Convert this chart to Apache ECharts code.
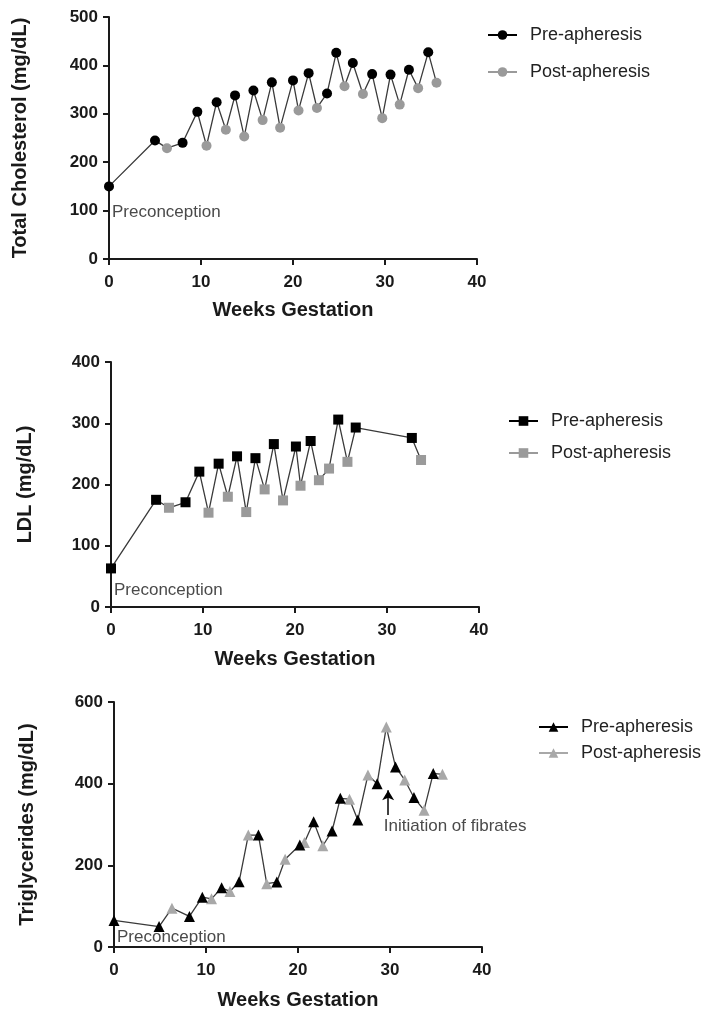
<!DOCTYPE html>
<html>
<head>
<meta charset="utf-8">
<script src="https://cdn.jsdelivr.net/npm/echarts@6/dist/echarts.min.js"></script>
<style>
html,body{margin:0;padding:0;background:#fff;}
#chart{width:712px;height:1012px;}
</style>
</head>
<body>
<div id="chart"></div>
<script>
// ---- Data (weeks gestation, mg/dL) ----
const tcPre = [[0,150],[5,245],[8,240],[9.6,304],[11.7,324],[13.7,338],[15.7,348],[17.7,365],[20,369],[21.7,384],[23.7,342],[24.7,426],[26.5,405],[28.6,382],[30.6,381],[32.6,391],[34.7,427]];
const tcPost = [[6.3,229],[10.6,234],[12.7,267],[14.7,253],[16.7,287],[18.6,271],[20.6,307],[22.6,312],[25.6,357],[27.6,341],[29.7,291],[31.6,319],[33.6,353],[35.6,364]];

const ldlPre = [[0,63],[4.9,175],[8.1,171],[9.6,221],[11.7,234],[13.7,246],[15.7,243],[17.7,266],[20.1,262],[21.7,271],[24.7,306],[26.6,293],[32.7,276]];
const ldlPost = [[6.3,162],[10.6,154],[12.7,180],[14.7,155],[16.7,192],[18.7,174],[20.6,198],[22.6,207],[23.7,226],[25.7,237],[33.7,240]];

const tgPre = [[0,65],[4.9,50],[8.2,75],[9.6,122],[11.7,145],[13.6,160],[15.7,274],[17.7,159],[20.2,250],[21.7,307],[23.7,284],[24.6,364],[26.5,311],[28.6,400],[30.6,441],[32.6,366],[34.7,425]];
const tgPost = [[6.3,95],[10.6,118],[12.6,136],[14.6,274],[16.6,155],[18.6,215],[20.7,256],[22.7,248],[25.6,362],[27.6,421],[29.6,539],[31.6,409],[33.7,335],[35.7,423]];

const yTitles = ['Total Cholesterol (mg/dL)', 'LDL (mg/dL)', 'Triglycerides (mg/dL)'];
const xTitle = 'Weeks Gestation';
const yMax = [500, 400, 600];
const yStep = [100, 100, 200];
const xTicks = {min: 0, max: 40, step: 10};
const legendNames = ['Pre-apheresis', 'Post-apheresis'];
const symbols = ['circle', 'rect', 'triangle'];
const fibrateArrow = {x: 29.8, yFrom: 323, yTo: 384};
const annotations = [
  {grid: 0, x: 0, y: 97, text: 'Preconception'},
  {grid: 1, x: 0, y: 27, text: 'Preconception'},
  {grid: 2, x: 0, y: 23, text: 'Preconception'},
  {grid: 2, x: 29.0, y: 295, text: 'Initiation of fibrates'}
];

const FONT = '"Liberation Sans", Arial, Helvetica, sans-serif';
const PRE = '#000000';
const POST = ['#9a9a9a', '#9a9a9a', '#a8a8a8'];
const LINE = '#3a3a3a';

const grids = [
  {left: 109, top: 17, width: 368, height: 242},
  {left: 111, top: 362, width: 368, height: 245},
  {left: 114, top: 702, width: 368, height: 245}
];
const legendPos = [
  {left: 482, top: 21, gap: 19},
  {left: 503, top: 407, gap: 14},
  {left: 533, top: 713, gap: 8}
];
const xNameGap = [41, 42, 43];
const yNameGap = [79, 76, 77];

const panels = [[tcPre, tcPost], [ldlPre, ldlPost], [tgPre, tgPost]];

const chart = echarts.init(document.getElementById('chart'), null, {renderer: 'canvas'});

const xAxes = [], yAxes = [], series = [], legends = [];
panels.forEach(([pre, post], i) => {
  const suffix = ' '.repeat(i);
  const preName = legendNames[0] + suffix;
  const postName = legendNames[1] + suffix;
  xAxes.push({
    type: 'value', gridIndex: i, min: xTicks.min, max: xTicks.max, interval: xTicks.step,
    name: xTitle, nameLocation: 'middle', nameGap: xNameGap[i],
    nameTextStyle: {fontFamily: FONT, fontSize: 20, fontWeight: 'bold', color: '#1a1a1a'},
    axisLine: {show: true, onZero: false, lineStyle: {color: '#1a1a1a', width: 2}},
    axisTick: {show: true, length: 6, lineStyle: {color: '#1a1a1a', width: 2}},
    axisLabel: {fontFamily: FONT, fontSize: 17, fontWeight: 'bold', color: '#1a1a1a', margin: 15},
    splitLine: {show: false}
  });
  yAxes.push({
    type: 'value', gridIndex: i, min: 0, max: yMax[i], interval: yStep[i],
    name: yTitles[i], nameLocation: 'middle', nameGap: yNameGap[i], nameRotate: 90,
    nameTextStyle: {fontFamily: FONT, fontSize: 20, fontWeight: 'bold', color: '#1a1a1a'},
    axisLine: {show: true, onZero: false, lineStyle: {color: '#1a1a1a', width: 2}},
    axisTick: {show: true, length: 6, lineStyle: {color: '#1a1a1a', width: 2}},
    axisLabel: {fontFamily: FONT, fontSize: 17, fontWeight: 'bold', color: '#1a1a1a', margin: 11},
    splitLine: {show: false}
  });
  const all = pre.concat(post).slice().sort((a, b) => a[0] - b[0]);
  const lineSeries = {
    type: 'line', xAxisIndex: i, yAxisIndex: i, data: all, showSymbol: false, symbol: 'none',
    lineStyle: {color: LINE, width: 1.3}, z: 2, silent: true, animation: false
  };
  if (i === 2) {
    lineSeries.markLine = {
      silent: true, animation: false,
      symbol: ['none', 'arrow'], symbolSize: [9, 10],
      lineStyle: {color: '#000', width: 1.5, type: 'solid'},
      label: {show: false},
      data: [[{coord: [fibrateArrow.x, fibrateArrow.yFrom]}, {coord: [fibrateArrow.x, fibrateArrow.yTo]}]]
    };
  }
  series.push(lineSeries);
  const sz = i === 2 ? 11 : 10;
  series.push({
    name: preName, type: 'line', xAxisIndex: i, yAxisIndex: i, data: pre,
    symbol: symbols[i], symbolSize: sz, showSymbol: true, color: PRE,
    itemStyle: {color: PRE}, lineStyle: {width: 0, color: PRE}, z: 4, animation: false
  });
  series.push({
    name: postName, type: 'line', xAxisIndex: i, yAxisIndex: i, data: post,
    symbol: symbols[i], symbolSize: sz, showSymbol: true, color: POST[i],
    itemStyle: {color: POST[i]}, lineStyle: {width: 0, color: POST[i]}, z: 3, animation: false
  });
  legends.push({
    orient: 'vertical', left: legendPos[i].left, top: legendPos[i].top, itemGap: legendPos[i].gap,
    itemWidth: 29, itemHeight: 12, selectedMode: false,
    data: [preName, postName],
    formatter: n => n.trim(),
    lineStyle: {width: 2},
    textStyle: {fontFamily: FONT, fontSize: 18, color: '#222', padding: [0, 0, 0, 8]}
  });
});

chart.setOption({
  animation: false,
  backgroundColor: '#ffffff',
  grid: grids,
  xAxis: xAxes,
  yAxis: yAxes,
  legend: legends,
  series: series
});

const graphics = annotations.map(a => {
  const p = chart.convertToPixel({gridIndex: a.grid}, [a.x, a.y]);
  return {
    type: 'text', x: p[0] + 3, y: p[1], silent: true,
    style: {text: a.text, fontFamily: FONT, fontSize: 17, fill: '#4a4a4a', verticalAlign: 'middle', align: 'left'},
    z: 10
  };
});
chart.setOption({graphic: graphics});
</script>
</body>
</html>
